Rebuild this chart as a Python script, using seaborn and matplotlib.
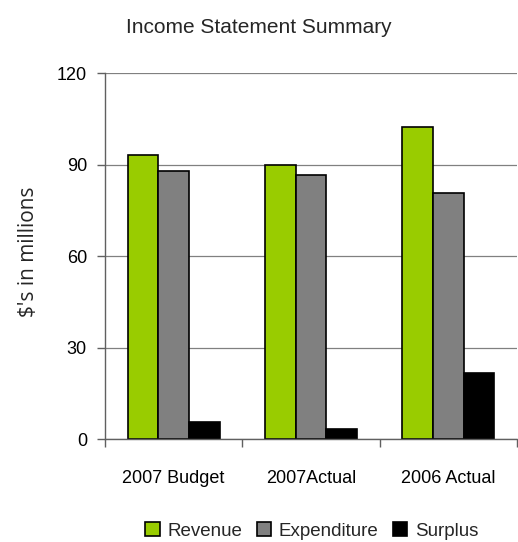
import pandas as pd
import matplotlib
matplotlib.use('Agg')
import matplotlib.pyplot as plt
import seaborn as sns

sns.set_style('white')
plt.rcParams['font.family'] = ['Liberation Sans', 'DejaVu Sans']

# 数据
categories = ['2007 Budget', '2007Actual', '2006 Actual']
revenue = [93, 90, 102.3]
expenditure = [88, 86.6, 80.8]
surplus = [5.5, 3.4, 21.7]
series = ['Revenue', 'Expenditure', 'Surplus']
colors = ['#99CC00', '#808080', '#000000']

df = pd.DataFrame({
    'category': categories * 3,
    'series': [s for s in series for _ in categories],
    'value': revenue + expenditure + surplus,
})

fig = plt.figure(figsize=(5.18, 5.42), dpi=100)
ax = fig.add_axes([0.2027, 0.19, 0.7953, 0.6753])

sns.barplot(data=df, x='category', y='value', hue='series', order=categories,
            hue_order=series, palette=colors, width=0.67, edgecolor='black',
            linewidth=1.2, saturation=1, ax=ax)

ax.set_ylim(0, 120)
ax.set_yticks([0, 30, 60, 90, 120])
ax.set_xlim(-0.5, 2.5)
ax.yaxis.grid(True, color='#808080', linewidth=0.9)
ax.set_axisbelow(True)
ax.set_xlabel('')
ax.set_ylabel('')

for side in ['top', 'right']:
    ax.spines[side].set_visible(False)
for side in ['left', 'bottom']:
    ax.spines[side].set_color('#606060')
    ax.spines[side].set_linewidth(1)

# 刻度
ax.tick_params(axis='y', which='major', left=True, length=6, width=1,
               color='#606060', pad=7, labelsize=13, labelcolor='black')
ax.tick_params(axis='x', which='major', bottom=False, length=0, pad=22, labelsize=13,
               labelcolor='black')
ax.set_xticks([-0.5, 0.5, 1.5, 2.5], minor=True)
ax.tick_params(axis='x', which='minor', bottom=True, length=6, width=1, color='#606060')

fig.text(0.5, 0.95, 'Income Statement Summary', ha='center', va='center', fontsize=15)
fig.text(28 / 518, 0.535, "$'s in millions", rotation=90, ha='center', va='center',
         fontsize=15, family=['Open Sans', 'DejaVu Sans'])

handles, labels = ax.get_legend_handles_labels()
ax.legend(handles, labels, loc='center', bbox_to_anchor=(0.602, 0.02),
          bbox_transform=fig.transFigure, ncol=3, frameon=False, fontsize=13.5,
          handlelength=0.75, handleheight=0.75, handletextpad=0.4, columnspacing=0.8)

plt.savefig('out.png', dpi=100)
